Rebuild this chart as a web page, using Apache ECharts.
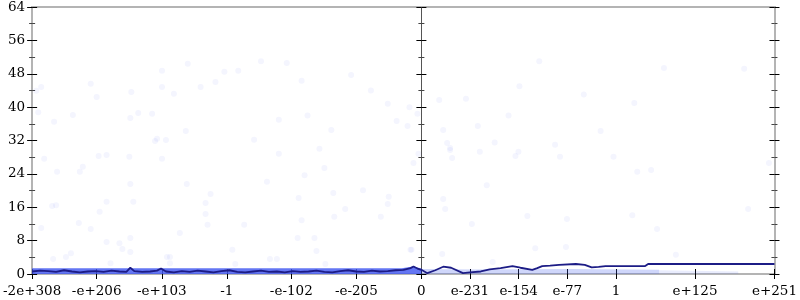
<!DOCTYPE html>
<html><head><meta charset="utf-8">
<script src="https://cdn.jsdelivr.net/npm/echarts@6/dist/echarts.min.js"></script>
<style>html,body{margin:0;padding:0;background:#fff}#c{width:800px;height:300px}</style>
</head><body><div id="c"></div>
<script>
// x axis: signed float-magnitude scale (position units), 0 at the middle
const xMin = -393.2, xMax = 356.6;
const xTickPos = [-393.2, -328, -262.2, -196.5, -131.4, -65.7, 0, 49.1, 98.3, 147.4, 196.5, 276.3, 356.6];
const xTickLabels = ['-2e+308', '-e+206', '-e+103', '-1', '-e-102', '-e-205', '0', 'e-231', 'e-154', 'e-77', '1', 'e+125', 'e+251'];
const yMin = 0, yMax = 64, yStep = 8;

// faint scattered samples [x, y]
const scatterPoints = [
[-389,43.9],[-384,44.8],[-387,38.8],[-371,36.5],[-352,38.1],[-334,45.6],[-328,42.4],[-293,43.6],[-294,37.4],[-286,38.6],
[-272,38.4],[-262,48.7],[-262,44.8],[-250,43.2],[-236,50.4],[-223,44.8],[-269,31.9],[-267,32.4],[-258,32.1],[-238,34.3],
[-381,27.6],[-368,24.5],[-373,16.3],[-369,16.5],[-384,11.0],[-345,24.5],[-342,25.7],[-326,28.3],[-318,28.5],[-295,28.1],
[-262,27.6],[-294,21.6],[-237,21.6],[-346,12.2],[-334,10.8],[-318,17.3],[-291,17.3],[-325,14.9],[-244,9.8],[-318,7.7],
[-305,7.4],[-294,8.6],[-302,6.0],[-294,5.3],[-359,4.1],[-354,5.0],[-372,3.6],[-257,4.1],[-254,4.1],[-254,2.6],[-314,2.6],
[-144,28.8],[-98,25.4],[-118,23.7],[-156,22.1],[-213,19.2],[-218,17.0],[-218,14.4],[-216,11.8],[-179,11.8],[-89,19.4],
[-59,20.1],[-124,18.2],[-33,18.5],[-34,16.8],[-77,15.6],[-88,13.7],[-121,12.9],[-41,13.7],[-125,8.6],[-108,8.6],
[-106,5.5],[-191,5.8],[-153,3.6],[-146,3.6],[-188,2.4],[-97,2.4],[-11,5.8],[-8,26.6],[-3,28.8],
[29,29.7],[59,29.3],[31,27.8],[95,28.3],[98,29.3],[140,28.1],[66,21.3],[22,18.0],[24,15.6],[51,12.0],
[107,13.9],[147,13.2],[-10,5.8],[21,4.8],[115,6.2],[146,6.5],[72,2.9],
[194,28.1],[218,24.5],[232,24.9],[213,14.1],[238,10.8],[257,4.6],[330,15.6],[351,26.6],
[245,49.4],[326,49.2],[215,41.0],[181,34.3],
[18,41.7],[-12,40.0],[-4,38.4],[-14,35.5],[22,34.5],[26,31.4],[29,30.2],
[-208,46],[-199,48.5],[-185,48.7],[-162,51],[-136,50.6],[-121,46.3],[-115,38],[-91,34.5],[-71,47.7],[-51,44],
[-34,40.8],[-25,36.7],[-169,32.2],[-144,37],[-103,30],[45,42],[57,35.5],[88,38],[119,51],[135,31],[164,43],[99,45],[74,31.5]
];

// dense band of samples near zero (upper envelope)
const bandNeg = [[-393.2,1.35],[-300,1.4],[-200,1.35],[-100,1.4],[-20,1.4],[-8,1.8],[0,1.3]];
const bandPos = [[0,1.2],[50,1.1],[150,1.2],[240,1.0]];
const bandTail = [[240,0.9],[320,0.6]];

// running average line
const avgLine = [
[-393.2,0.6],[-385,0.8],[-377,0.7],[-369,0.5],[-361,0.9],[-353,0.6],[-345,0.4],[-337,0.6],[-329,0.7],[-321,0.5],
[-313,0.8],[-305,0.6],[-298,0.5],[-294,1.5],[-290,0.7],[-282,0.5],[-274,0.6],[-267,0.8],[-263,1.3],[-258,0.6],
[-250,0.4],[-242,0.7],[-234,0.5],[-226,0.8],[-218,0.6],[-210,0.4],[-202,0.7],[-194,0.9],[-186,0.5],[-178,0.4],
[-170,0.6],[-162,0.8],[-154,0.5],[-146,0.6],[-138,0.4],[-130,0.7],[-122,0.5],[-114,0.6],[-106,0.8],[-98,0.5],
[-90,0.4],[-82,0.7],[-74,0.9],[-66,0.6],[-58,0.5],[-50,0.8],[-42,0.6],[-34,0.7],[-26,0.9],[-18,1.0],
[-11,1.4],[-8,1.8],[-4,1.3],[0,1.0],[6,0.2],[14,0.9],[22,1.75],[30,1.5],[42,0.2],[49,0.4],
[60,0.6],[69,1.1],[80,1.4],[92,1.9],[100,1.5],[112,1.0],[117,1.4],[122,1.9],[130,2.0],[139,2.2],
[156,2.4],[165,2.2],[172,1.6],[179,1.7],[186,1.9],[196,1.9],[226,1.9],[229,2.4],[356.6,2.4]
];

const FONT = 'DejaVu Serif';
const GREY = '#b4b4b4';

function xLabel(v) {
  for (let i = 0; i < xTickPos.length; i++) if (Math.abs(v - xTickPos[i]) < 0.01) return xTickLabels[i];
  return '';
}
function xAx(inside, labels) {
  return {
    type: 'value', position: 'bottom', min: xMin, max: xMax,
    axisLine: {show: true, onZero: false, lineStyle: {color: GREY, width: 2}},
    axisTick: {show: true, inside: inside, length: 5, customValues: xTickPos, lineStyle: {color: '#000', width: 1}},
    axisLabel: {show: labels, customValues: xTickPos, formatter: xLabel, margin: 10,
      color: '#000', fontFamily: FONT, fontSize: 13.5, showMinLabel: true, showMaxLabel: true},
    splitLine: {show: false}
  };
}
function yAx(position, inside, labels, onZero, lineColor, lineWidth) {
  return {
    type: 'value', position: position, min: yMin, max: yMax, interval: yStep,
    axisLine: {show: true, onZero: onZero, onZeroAxisIndex: 0, lineStyle: {color: lineColor, width: lineWidth}},
    axisTick: {show: true, inside: inside, length: 5, lineStyle: {color: '#000', width: 1}},
    minorTick: {show: true, splitNumber: 2, length: 3, lineStyle: {color: '#444', width: 1}},
    axisLabel: {show: labels, margin: 7, color: '#000', fontFamily: FONT, fontSize: 13.5},
    splitLine: {show: false}, minorSplitLine: {show: false}
  };
}

const chart = echarts.init(document.getElementById('c'), null, {renderer: 'canvas'});
chart.setOption({
  animation: false,
  backgroundColor: '#fff',
  grid: {left: 28, right: 22, top: 7, bottom: 26, containLabel: false},
  xAxis: [
    xAx(true, true),
    xAx(false, false),
    {type: 'value', position: 'top', min: xMin, max: xMax,
     axisLine: {show: true, onZero: false, lineStyle: {color: GREY, width: 2}},
     axisTick: {show: false}, axisLabel: {show: false}, splitLine: {show: false}}
  ],
  yAxis: [
    yAx('left', true, true, false, GREY, 2),
    yAx('left', false, false, false, GREY, 2),
    yAx('right', true, false, false, GREY, 2),
    yAx('right', false, false, false, GREY, 2),
    yAx('left', true, false, true, '#555', 1),
    yAx('left', false, false, true, '#555', 1)
  ],
  series: [
    {type: 'scatter', xAxisIndex: 0, yAxisIndex: 0, data: scatterPoints, symbolSize: 6, silent: true,
     itemStyle: {color: 'rgba(30,50,230,0.06)'}},
    {type: 'line', xAxisIndex: 0, yAxisIndex: 0, data: bandNeg, symbol: 'none', silent: true,
     lineStyle: {width: 0}, areaStyle: {color: 'rgba(66,88,240,0.82)', origin: 'start', opacity: 1}},
    {type: 'line', xAxisIndex: 0, yAxisIndex: 0, data: bandPos, symbol: 'none', silent: true,
     lineStyle: {width: 0}, areaStyle: {color: 'rgba(70,95,235,0.26)', origin: 'start', opacity: 1}},
    {type: 'line', xAxisIndex: 0, yAxisIndex: 0, data: bandTail, symbol: 'none', silent: true,
     lineStyle: {width: 0}, areaStyle: {color: 'rgba(70,95,235,0.12)', origin: 'start', opacity: 1}},
    {type: 'line', xAxisIndex: 0, yAxisIndex: 0, data: avgLine, symbol: 'none', silent: true,
     lineStyle: {color: '#1c1c86', width: 1.8}}
  ]
});
</script></body></html>
